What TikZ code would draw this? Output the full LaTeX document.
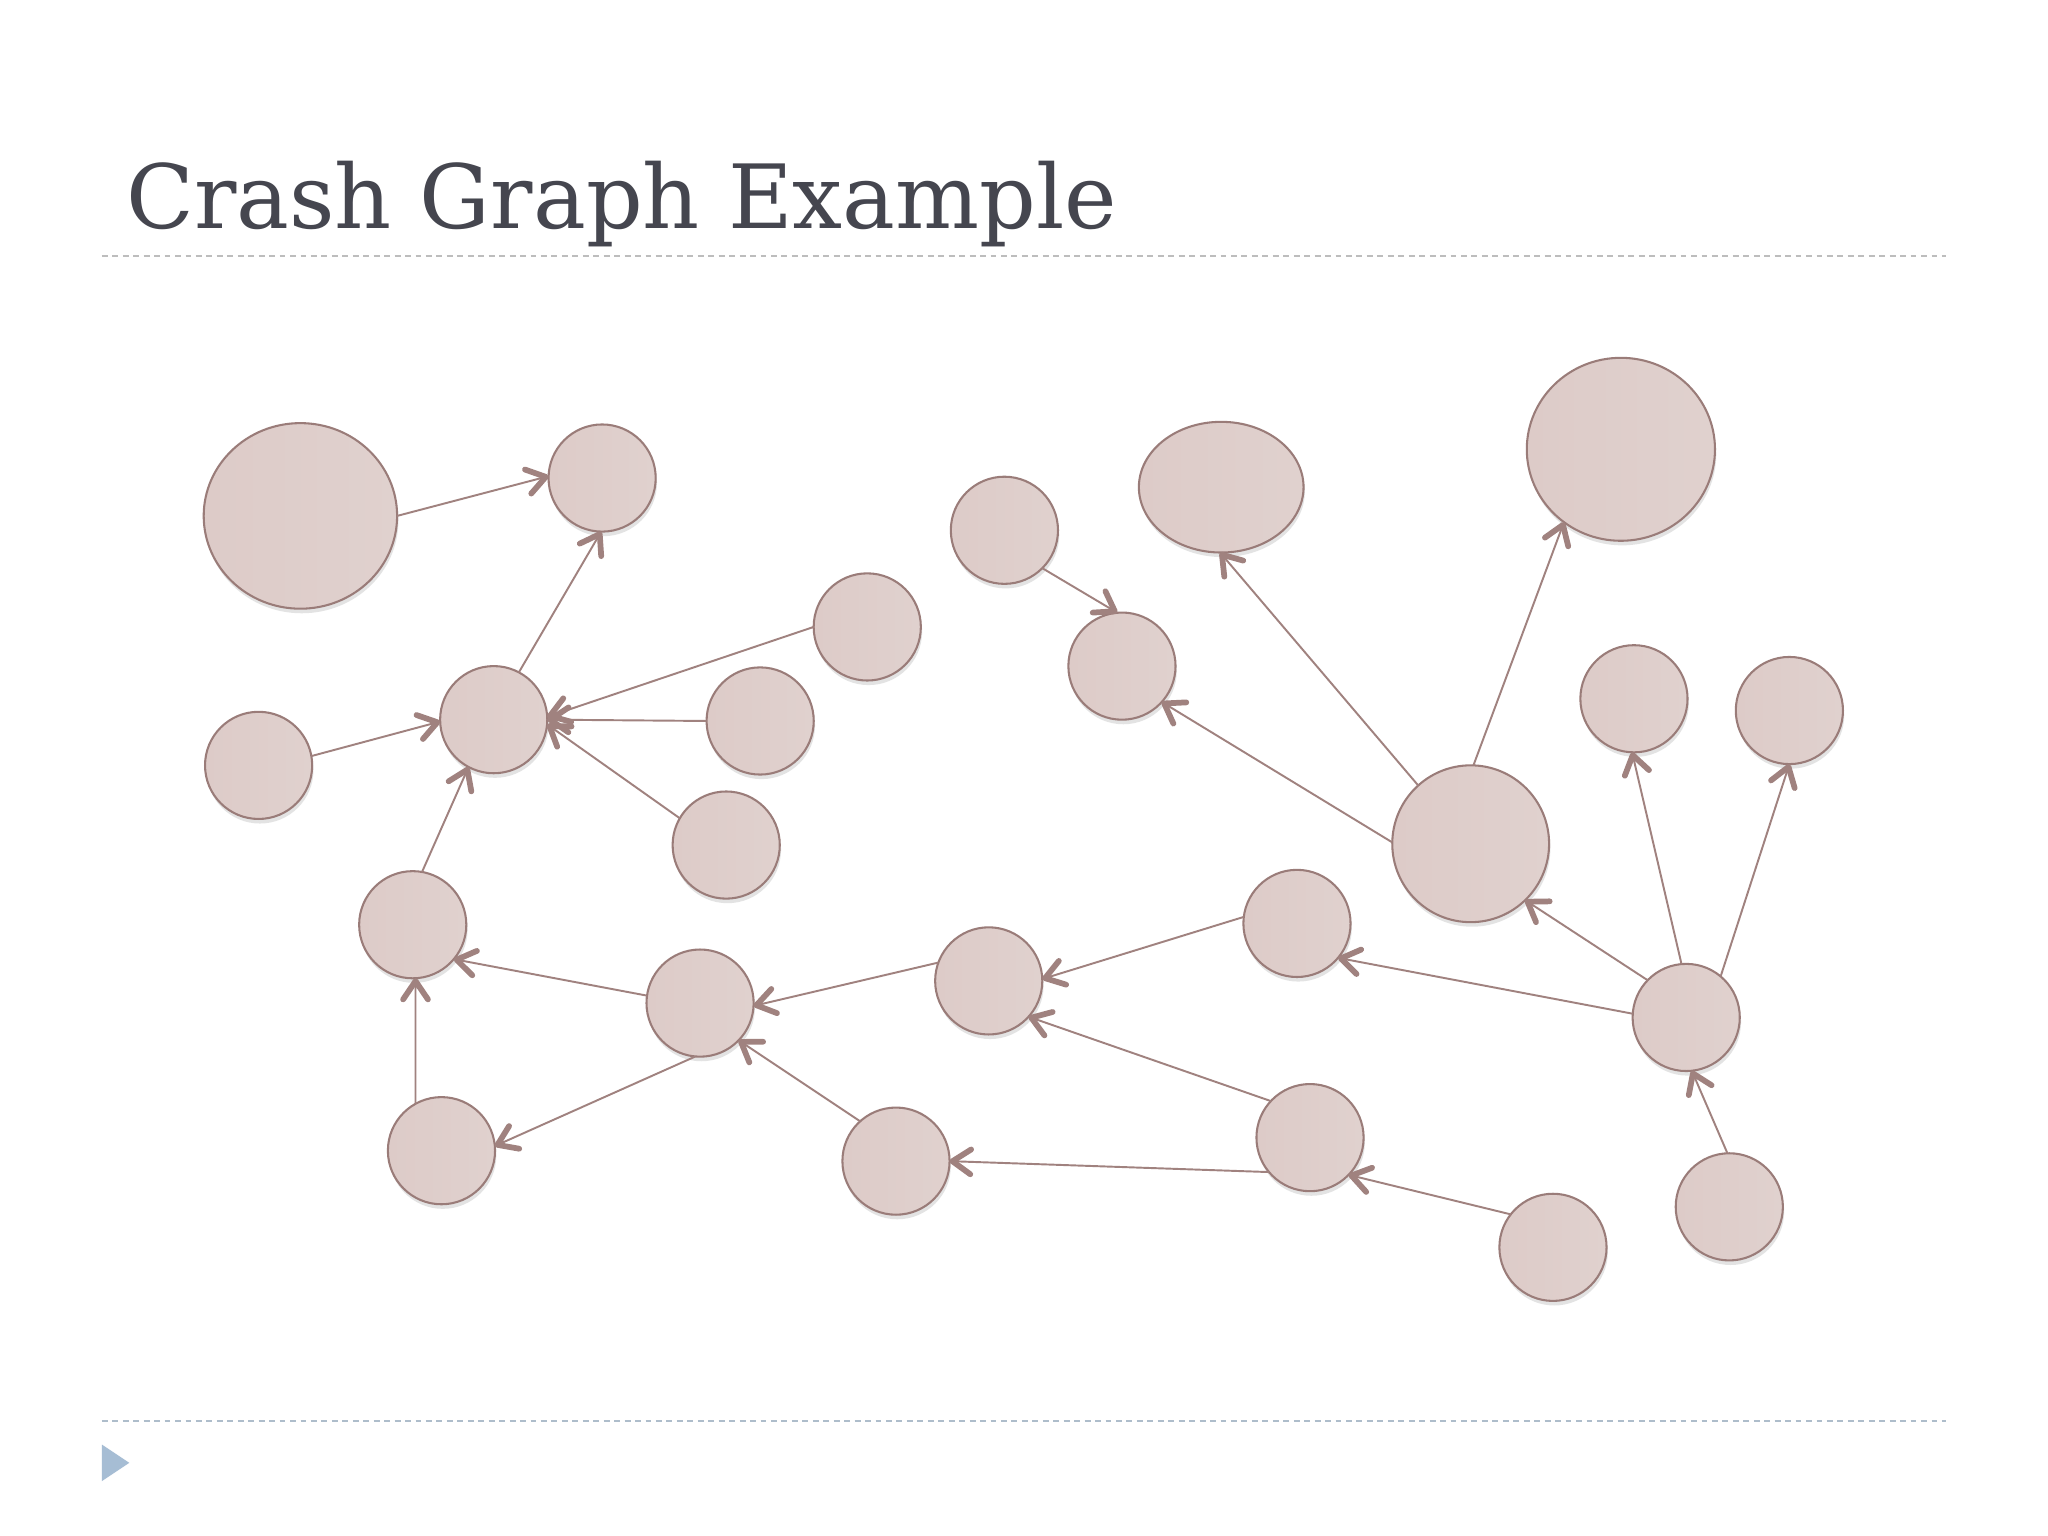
\documentclass[tikz,border=0pt]{standalone}
\usepackage{fontspec}
\newfontfamily\titlefont{DejaVu Serif}
\usetikzlibrary{arrows.meta,shadows,shapes.geometric}
\definecolor{nodeedge}{HTML}{9A7C79}
\definecolor{edgecol}{HTML}{A0827F}
\definecolor{fillL}{HTML}{DDCBC8}
\definecolor{fillM}{HTML}{D1B8B3}
\definecolor{fillR}{HTML}{E0D1CE}
\definecolor{titlecol}{HTML}{45464F}
\definecolor{topdash}{HTML}{BDBDBD}
\definecolor{botdash}{HTML}{AEBDCB}
\definecolor{tricol}{HTML}{A6BDD4}
\begin{document}
\begin{tikzpicture}[x=0.01cm,y=-0.01cm,
  gshape/.style={draw=nodeedge, line width=0.45pt, left color=fillL, middle color=fillM, right color=fillR,
    inner sep=0pt, outer sep=0pt,
    drop shadow={shadow xshift=0.01cm, shadow yshift=-0.035cm, opacity=0.18, fill=black!60}},
  gnode/.style={gshape, circle, minimum size=0.82cm},
  bignode/.style={gshape, ellipse},
  link/.style={draw=edgecol, line width=0.42pt,
    -{Straight Barb[length=0.14cm, width=0.19cm, line width=1.25pt, round]}},
  dashline/.style={line width=0.45pt, dash pattern=on 0.045cm off 0.035cm}
]
\useasboundingbox (0,0) rectangle (1568,1176);
\fill[white] (0,0) rectangle (1568,1176);

% title and rules
\node[anchor=base west, inner sep=0pt, text=titlecol, font=\titlefont\fontsize{19.3pt}{23pt}\selectfont] (title) at (96,175) {Crash Graph Example};
\draw[dashline, draw=topdash] (78,196) -- (1490,196);
\draw[dashline, draw=botdash] (78,1088) -- (1490,1088);
\fill[tricol] (78,1106) -- (99,1120) -- (78,1134) -- cycle;

% nodes
\node[bignode, minimum width=1.48cm, minimum height=1.42cm] (A) at (230,395) {};
\node[gnode] (B) at (461,366) {};
\node[gnode] (C) at (378,551) {};
\node[gnode] (D) at (198,586) {};
\node[gnode] (E) at (664,480) {};
\node[gnode] (F) at (582,552) {};
\node[gnode] (G) at (556,647) {};
\node[gnode] (H) at (316,708) {};
\node[gnode] (I) at (536,768) {};
\node[gnode] (J) at (338,881) {};
\node[gnode] (K) at (686,889) {};
\node[gnode] (L) at (757,751) {};
\node[gnode] (M) at (993,707) {};
\node[gnode] (N) at (1003,871) {};
\node[gnode] (O) at (1189,955) {};
\node[gnode] (P) at (1291,779) {};
\node[gnode] (Q) at (1324,924) {};
\node[gnode, minimum size=1.2cm] (R) at (1126,646) {};
\node[gnode] (S) at (769,406) {};
\node[gnode] (T) at (859,510) {};
\node[bignode, minimum width=1.26cm, minimum height=1.0cm] (U) at (935,373) {};
\node[bignode, minimum width=1.44cm, minimum height=1.4cm] (V) at (1241,344) {};
\node[gnode] (W) at (1251,535) {};
\node[gnode] (X) at (1370,544) {};

% connectors
\draw[link] (A.east) -- (B.178);
\draw[link] (C.62) -- (B.-91);
\draw[link] (D.10) -- (C.182);
\draw[link] (E.180) -- (C.3);
\draw[link] (F.180) -- (C.0);
\draw[link] (G.150) -- (C.-5);
\draw[link] (H.80) -- (C.-118);
\draw[link] (I.172) -- (H.-40);
\draw[link] (J.119) -- (H.-87);
\draw[link] (I.-95) -- (J.5);
\draw[link] (K.132) -- (I.-44);
\draw[link] (L.160) -- (I.-3);
\draw[link] (M.173) -- (L.2);
\draw[link] (N.137) -- (L.-42);
\draw[link] (N.-140) -- (K.0);
\draw[link] (O.142) -- (N.-44);
\draw[link] (P.176) -- (M.-40);
\draw[link] (P.136) -- (R.-46);
\draw[link] (P.95) -- (W.-92);
\draw[link] (P.50) -- (X.-90);
\draw[link] (Q.92) -- (P.-84);
\draw[link] (R.179) -- (T.-42);
\draw[link] (R.132) -- (U.-91);
\draw[link] (R.88) -- (V.-128);
\draw[link] (S.-45) -- (T.95);
\end{tikzpicture}
\end{document}
